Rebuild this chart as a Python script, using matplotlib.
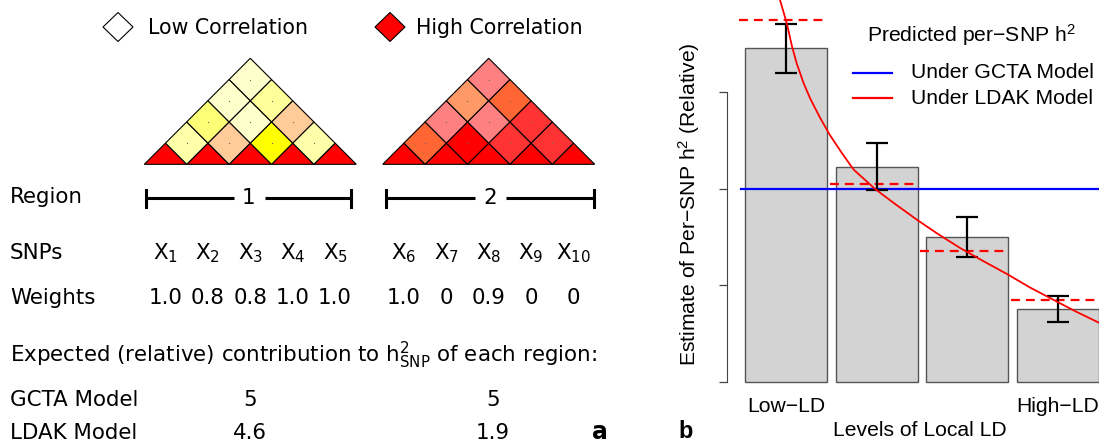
import matplotlib.pyplot as plt
from matplotlib.patches import Polygon

plt.rcParams['mathtext.fontset'] = 'custom'
plt.rcParams['mathtext.rm'] = 'Liberation Sans'
plt.rcParams['mathtext.it'] = 'Liberation Sans:italic'

# ---- panel a data ----
snps_r1 = [1, 2, 3, 4, 5]
snps_r2 = [6, 7, 8, 9, 10]
weights_r1 = ["1.0", "0.8", "0.8", "1.0", "1.0"]
weights_r2 = ["1.0", "0", "0.9", "0", "0"]
gcta_contrib = ["5", "5"]
ldak_contrib = ["4.6", "1.9"]
# LD colours per off-diagonal row (distance 1, 2, 3, 4)
ld_r1 = [["#FFFFAA", "#FFCC99", "#FFFF00", "#FFFFAA"],
         ["#FFFF77", "#FFFFCC", "#FFCC99"],
         ["#FFFFCC", "#FFFF99"],
         ["#FFFFCC"]]
ld_r2 = [["#FF6633", "#FF0000", "#FF3333", "#FF3333"],
         ["#FF8080", "#FF8080", "#FF3333"],
         ["#FF9966", "#FF6633"],
         ["#FF8080"]]

# ---- panel b data ----
ld_levels = ["Low−LD", "High−LD"]
estimate = [1.729, 1.116, 0.753, 0.380]
est_se = [0.128, 0.123, 0.104, 0.068]
ldak_bin = [1.876, 1.024, 0.679, 0.425]
gcta_level = 1.0
curve_x = [0.45, 0.525, 0.606, 0.67, 0.728, 0.81, 0.89, 1.01, 1.13, 1.27, 1.42, 1.68, 1.93, 2.19, 2.45,
           2.71, 3.0, 3.28, 3.56, 3.85, 4.12, 4.40]
curve_y = [2.15, 1.979, 1.86, 1.74, 1.65, 1.55, 1.47, 1.37, 1.28, 1.19, 1.10, 1.00, 0.92, 0.84, 0.765,
           0.695, 0.625, 0.56, 0.49, 0.425, 0.365, 0.307]

W, H = 1099, 445
fig = plt.figure(figsize=(W / 100, H / 100), dpi=100)

ov = fig.add_axes([0, 0, 1, 1])
ov.set_xlim(0, W)
ov.set_ylim(H, 0)
ov.axis('off')
ov.set_zorder(2)

FS = 15.4
LFS = 14.8
MF = 'dejavusans'
s = 42.4
base = 164.3


def draw_region(x0, colours):
    centres = [x0 + s / 2 + i * s for i in range(5)]
    for c in centres:
        ov.add_patch(Polygon([(c - s / 2, base), (c + s / 2, base), (c, base - s / 2)],
                             fc='#FF0000', ec='black', lw=0.8))
    for d, row in enumerate(colours, start=1):
        for i, col in enumerate(row):
            cx = (centres[i] + centres[i + d]) / 2
            cy = base - d * s / 2
            ov.add_patch(Polygon([(cx, cy + s / 2), (cx + s / 2, cy), (cx, cy - s / 2), (cx - s / 2, cy)],
                                 fc=col, ec='black', lw=0.8))
            ov.plot(cx, cy, 's', ms=0.8, color='#666666', mew=0)
    return centres


c1 = draw_region(144.3, ld_r1)
c2 = draw_region(382.7, ld_r2)

# legend diamonds
ov.add_patch(Polygon([(118, 12.5), (133, 27), (118, 41.5), (103, 27)], fc='white', ec='black', lw=0.8))
ov.add_patch(Polygon([(390, 12.5), (405, 27), (390, 41.5), (375, 27)], fc='#FF0000', ec='black', lw=0.8))
ov.text(148, 28, "Low Correlation", fontsize=LFS, va='center')
ov.text(416, 28, "High Correlation", fontsize=LFS, va='center')


def region_bar(xl, xr, xm, label):
    y = 198
    ov.plot([xl, xm - 15], [y, y], color='black', lw=2.2, solid_capstyle='butt')
    ov.plot([xm + 16, xr], [y, y], color='black', lw=2.2, solid_capstyle='butt')
    ov.plot([xl, xl], [190, 206.5], color='black', lw=2.2)
    ov.plot([xr, xr], [190, 206.5], color='black', lw=2.2)
    ov.text(xm, y, label, fontsize=FS, ha='center', va='center')


ov.text(10, 197, "Region", fontsize=FS, va='center')
region_bar(146, 351, 249, "1")
region_bar(386, 594, 490, "2")

ov.text(10, 253, "SNPs", fontsize=FS, va='center')
ov.text(10, 298, "Weights", fontsize=FS, va='center')
for cs, snps, wts in [(c1, snps_r1, weights_r1), (c2, snps_r2, weights_r2)]:
    for c, n, w in zip(cs, snps, wts):
        ov.text(c, 253, "X$_{%d}$" % n, fontsize=FS, ha='center', va='center', math_fontfamily=MF)
        ov.text(c, 298, w, fontsize=FS, ha='center', va='center')

ov.text(10, 355, r"Expected (relative) contribution to h$^2_{\mathrm{SNP}}$ of each region:",
        fontsize=FS, va='center', math_fontfamily=MF)
ov.text(10, 400, "GCTA Model", fontsize=FS, va='center')
ov.text(10, 433, "LDAK Model", fontsize=FS, va='center')
for xc, g, l in zip([250, 493], gcta_contrib, ldak_contrib):
    ov.text(xc, 400, g, fontsize=FS, ha='center', va='center')
    ov.text(xc, 433, l, fontsize=FS, ha='center', va='center')
ov.text(600, 432, "a", fontsize=17, fontweight='bold', ha='center', va='center')

# ---- panel b ----
RF = 'Liberation Sans'
RS = 15.2
ax_left, ax_bottom = 736.8, 382
ax = fig.add_axes([ax_left / W, (H - ax_bottom) / H, 1 - ax_left / W, ax_bottom / H])
pos = [0.6 + 1.1 * i for i in range(len(estimate))]
ax.bar(pos, estimate, width=1.0, color='#D3D3D3', edgecolor='#555555', lw=1, zorder=1, clip_on=False)
ax.axhline(gcta_level, xmin=0.05 / 4.4, color='#0000FF', lw=1.6, zorder=2)
ax.hlines(ldak_bin, [p - 0.57 for p in pos], [p + 0.51 for p in pos], colors='#FF0000',
          linestyles=(0, (4, 2.7)), lw=1.6, zorder=2)
ax.errorbar(pos, estimate, yerr=est_se, fmt='none', ecolor='black', elinewidth=1.6,
            capsize=8, capthick=1.6, zorder=3)
ax.plot(curve_x, curve_y, color='#FF0000', lw=1.3, zorder=4)
ax.set_xlim(0, 4.4)
ax.set_ylim(0, 1.979)
ax.patch.set_visible(False)
for sp in ['top', 'right', 'bottom']:
    ax.spines[sp].set_visible(False)
ax.spines['left'].set_position(('outward', 7.3))
ax.spines['left'].set_bounds(0, 1.5)
ax.spines['left'].set_color('#444444')
ax.set_yticks([0, 0.5, 1.0, 1.5])
ax.set_yticklabels([])
ax.tick_params(axis='y', length=6, width=0.9, color='#444444')
ax.set_xticks([pos[0], pos[-1]])
ax.set_xticklabels(ld_levels, fontfamily=RF, fontsize=RS)
ax.tick_params(axis='x', length=0, pad=10.5)

ov.text(689, 204, "Estimate of Per−SNP h$^2$ (Relative)", rotation=90, fontfamily=RF,
        fontsize=RS, ha='center', va='center')
ov.text(920, 431, "Levels of Local LD", fontfamily=RF, fontsize=RS, ha='center', va='center')
ov.text(686, 431, "b", fontfamily=RF, fontsize=17, fontweight='bold', ha='center', va='center')

# legend
ov.text(971, 35, "Predicted per−SNP h$^2$", fontfamily=RF, fontsize=RS, ha='center', va='center')
ov.plot([853, 892], [72.7, 72.7], color='#0000FF', lw=1.6)
ov.plot([853, 892], [98.3, 98.3], color='#FF0000', lw=1.6)
ov.text(910.7, 72.7, "Under GCTA Model", fontfamily=RF, fontsize=RS, va='center')
ov.text(910.7, 98.3, "Under LDAK Model", fontfamily=RF, fontsize=RS, va='center')

fig.savefig("out.png", dpi=100)
